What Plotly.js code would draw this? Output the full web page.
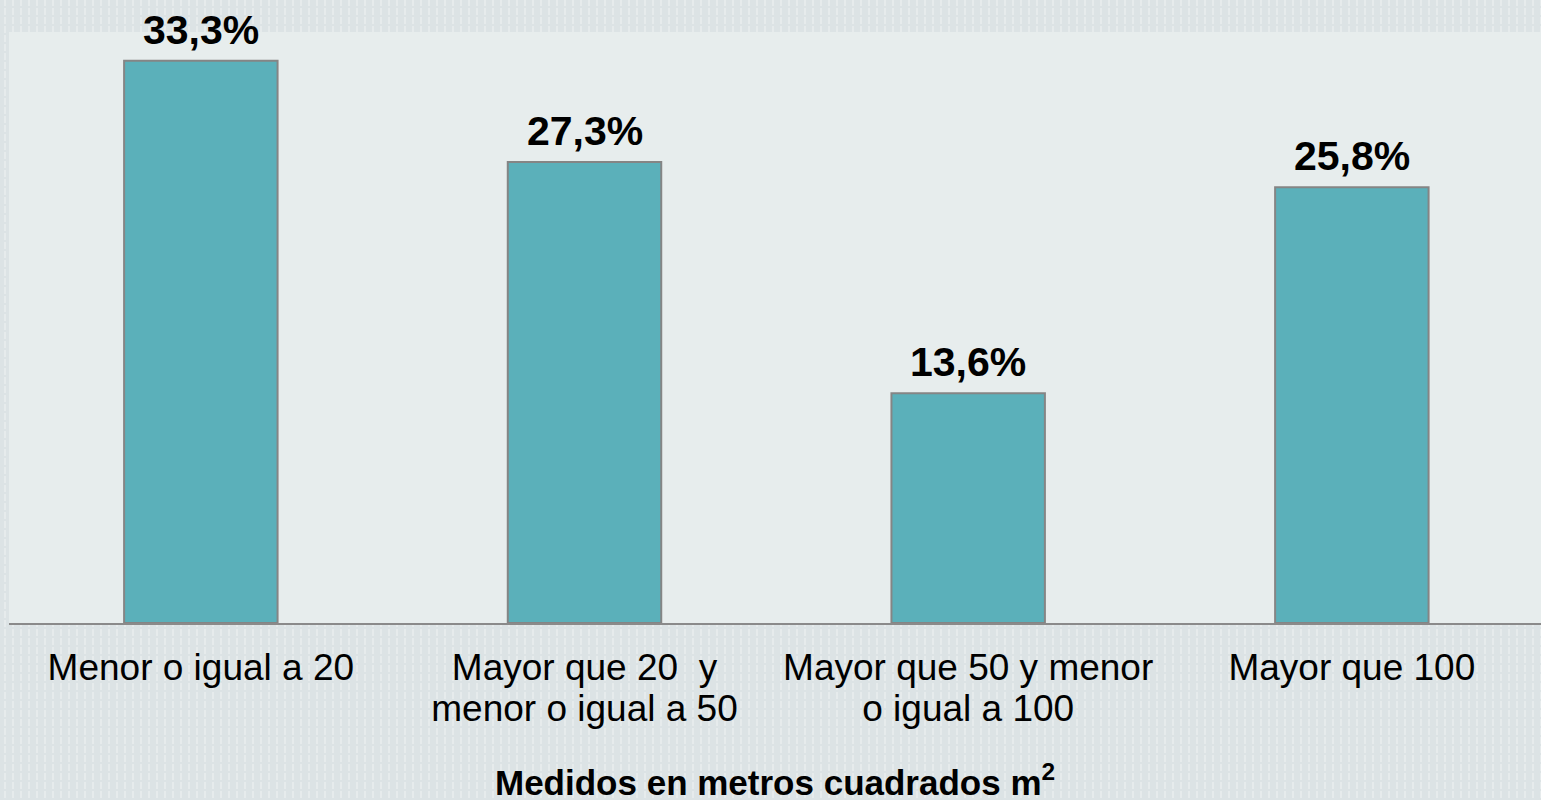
<!DOCTYPE html>
<html>
<head>
<meta charset="utf-8">
<script src="https://cdn.plot.ly/plotly-3.0.1.min.js"></script>
<style>
  html, body { margin: 0; padding: 0; width: 1541px; height: 800px; overflow: hidden; }
  body {
    background-color: #dce3e5;
    background-image:
      repeating-linear-gradient(0deg, rgba(220,227,229,1) 0px, rgba(220,227,229,1) 2px, rgba(0,0,0,0) 2px, rgba(0,0,0,0) 9px),
      repeating-linear-gradient(90deg, #dce3e5 0px, #dce3e5 4px, #e6ebec 4px, #e6ebec 6px, #dce3e5 6px, #dce3e5 8px);
  }
  #chart { width: 1541px; height: 800px; }
</style>
</head>
<body>
<div id="chart"></div>
<script>
const categories = [
  "Menor o igual a 20",
  "Mayor que 20&nbsp;&nbsp;y<br>menor o igual a 50",
  "Mayor que 50 y menor<br>o igual a 100",
  "Mayor que 100"
];
const values = [33.3, 27.3, 13.6, 25.8];
const valueLabels = ["33,3%", "27,3%", "13,6%", "25,8%"];
const xTitle = "Medidos en metros cuadrados m<sup>2</sup>";

const font = "Liberation Sans, Arial, sans-serif";

const trace = {
  type: "bar",
  x: categories,
  y: values,
  marker: { color: "#5bb0ba", line: { color: "#858585", width: 2 } },
  hoverinfo: "none"
};

const annotations = categories.map((c, i) => ({
  x: c, y: values[i], xref: "x", yref: "y",
  text: "<b>" + valueLabels[i] + "</b>",
  showarrow: false, yanchor: "bottom", yshift: 6,
  font: { family: font, size: 41, color: "#000000" }
}));
annotations.push({
  x: 0.5, y: 0, xref: "paper", yref: "paper",
  text: "<b>" + xTitle + "</b>",
  showarrow: false, yanchor: "top", yshift: -133,
  font: { family: font, size: 35, color: "#000000" }
});

const layout = {
  width: 1541, height: 800,
  margin: { l: 9, r: 0, t: 32, b: 177, pad: 0 },
  paper_bgcolor: "rgba(0,0,0,0)",
  plot_bgcolor: "#e7eded",
  bargap: 0.6,
  showlegend: false,
  xaxis: {
    type: "category",
    range: [-0.5, 3.493],
    showline: true, linecolor: "#8a8a8a", linewidth: 2,
    showgrid: false, zeroline: false, ticks: "",
    ticklabelstandoff: 11,
    tickfont: { family: font, size: 37, color: "#000000" },
    fixedrange: true
  },
  yaxis: {
    range: [0, 35], visible: false, showgrid: false, zeroline: false, fixedrange: true
  },
  annotations: annotations
};

Plotly.newPlot("chart", [trace], layout, { displayModeBar: false, staticPlot: true }).then(() => {
  document.querySelectorAll("#chart .xtick text tspan.line").forEach(t => {
    if (t.getAttribute("dy") === "1.3em") t.setAttribute("dy", "1.1em");
  });
});
</script>
</body>
</html>
